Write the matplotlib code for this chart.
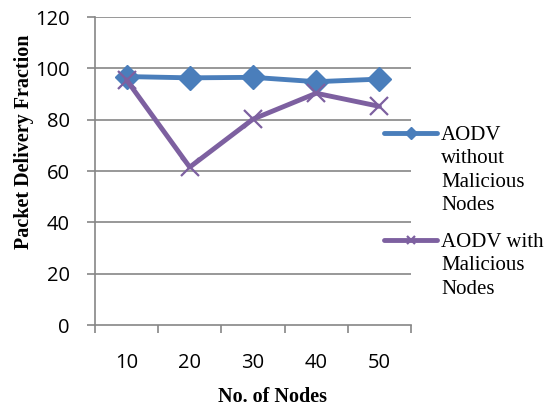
import matplotlib.pyplot as plt
from matplotlib.lines import Line2D

nodes = ['10', '20', '30', '40', '50']
without_malicious = [96.8, 96.3, 96.5, 94.8, 95.8]
with_malicious = [95.5, 61.5, 80.2, 90.3, 85.2]
series_labels = ['AODV\nwithout\nMalicious\nNodes', 'AODV with\nMalicious\nNodes']

blue = '#4A7EBB'
purple = '#7D60A0'
grey = '#868686'

fig = plt.figure(figsize=(5.55, 4.08), dpi=100)
ax = fig.add_axes([0.171, 0.2034, 0.5695, 0.7549])

x = list(range(len(nodes)))
ax.plot(x, without_malicious, color=blue, lw=3.5, marker='D', ms=12.5,
        solid_capstyle='round', zorder=3)
ax.plot(x, with_malicious, color=purple, lw=3.5, marker='x', ms=12.5, mew=1.6,
        solid_capstyle='round', zorder=3)

ax.set_ylim(0, 120)
ax.set_xlim(-0.5, len(nodes) - 0.5)
ax.set_yticks(range(0, 121, 20))
for yv in range(20, 121, 20):
    ax.axhline(yv, color=grey, lw=1.2, zorder=1)

ax.set_xticks([i - 0.5 for i in range(len(nodes) + 1)])
ax.set_xticklabels([])
ax.set_xticks(x, minor=True)
ax.set_xticklabels(nodes, minor=True)
ax.tick_params(axis='x', which='major', length=6, width=1.2, color=grey, direction='out')
ax.tick_params(axis='x', which='minor', length=0, pad=20)
ax.tick_params(axis='y', length=6, width=1.2, color=grey, direction='out', pad=12)
for lab in ax.get_xticklabels(minor=True) + ax.get_yticklabels():
    lab.set_fontfamily('Open Sans')
    lab.set_fontsize(14.5)

for side in ['top', 'right']:
    ax.spines[side].set_visible(False)
for side in ['left', 'bottom']:
    ax.spines[side].set_color(grey)
    ax.spines[side].set_linewidth(1.2)

ax.set_xlabel('No. of Nodes', fontfamily='Liberation Serif', fontweight='bold',
              fontsize=14.5)
ax.set_ylabel('Packet Delivery Fraction', fontfamily='Liberation Serif',
              fontweight='bold', fontsize=14.5)
ax.xaxis.label.set_va('center')
ax.yaxis.label.set_va('center')
ax.xaxis.set_label_coords(0.563, -0.234)
ax.yaxis.set_label_coords(-0.225, 0.594)

# legend drawn by hand so the key lines up with the first text line
legend_rows = [(blue, 'D', 1.0, series_labels[0], 275 / 408),
               (purple, 'x', 1.6, series_labels[1], 168 / 408)]
for color, mk, mew, label, yf in legend_rows:
    fig.add_artist(Line2D([384 / 555, 437 / 555], [yf, yf], color=color, lw=3.5,
                          solid_capstyle='round', transform=fig.transFigure))
    fig.add_artist(Line2D([410.5 / 555], [yf], color=color, marker=mk, ms=6, mew=mew,
                          transform=fig.transFigure))
    fig.text(441 / 555, yf + 7 / 408, label, ha='left', va='top',
             fontfamily='Liberation Serif', fontsize=15, linespacing=1.32)

fig.savefig('out.png', dpi=100)
